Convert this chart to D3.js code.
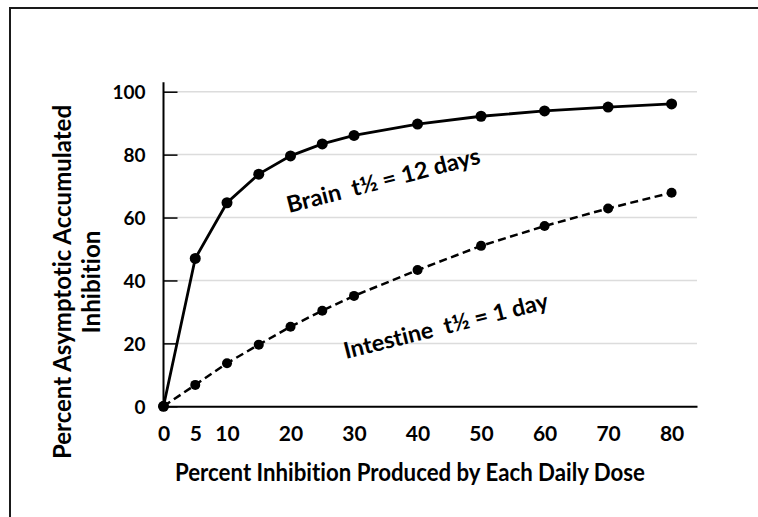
<!DOCTYPE html>
<html>
<head>
<meta charset="utf-8">
<script src="https://cdn.jsdelivr.net/npm/d3@7"></script>
<style>
  body { margin: 0; background: #fff; }
  text { font-family: "Lato", "Open Sans", sans-serif; font-weight: bold; fill: #000; font-variant-ligatures: none; }
</style>
</head>
<body>
<div id="chart"></div>
<script>
var svgWidth = 758;
var svgHeight = 517;

// data
var doses = [0, 5, 10, 15, 20, 25, 30, 40, 50, 60, 70, 80];
var brain = [0, 47.0, 64.7, 73.8, 79.6, 83.4, 86.1, 89.7, 92.2, 93.9, 95.1, 96.1];
var intestine = [0, 6.8, 13.7, 19.6, 25.3, 30.4, 35.1, 43.3, 51.0, 57.3, 62.9, 67.9];
var xTicks = [0, 5, 10, 20, 30, 40, 50, 60, 70, 80];
var yTicks = [0, 20, 40, 60, 80, 100];

var margin = { top: 91.7, left: 163.5 };
var width = 533.5;   // plot runs to 84 on x
var height = 314.6;  // 0..100 on y

var svg = d3.select("#chart")
    .append("svg")
    .attr("width", svgWidth)
    .attr("height", svgHeight);

// outer frame
svg.append("rect")
    .attr("x", 10)
    .attr("y", 8)
    .attr("width", 800)
    .attr("height", 600)
    .attr("fill", "none")
    .attr("stroke", "#1a1a1a")
    .attr("stroke-width", 2);

var chartGroup = svg.append("g")
    .attr("transform", `translate(${margin.left}, ${margin.top})`);

var xScale = d3.scaleLinear()
    .domain([0, 84])
    .range([0, width]);

var yScale = d3.scaleLinear()
    .domain([0, 100])
    .range([height, 0]);

// gridlines
chartGroup.append("g")
    .selectAll("line")
    .data(yTicks.filter(d => d > 0))
    .enter()
    .append("line")
    .attr("x1", 0)
    .attr("x2", width)
    .attr("y1", d => yScale(d))
    .attr("y2", d => yScale(d))
    .attr("stroke", "#dcdcdc")
    .attr("stroke-width", 1.5);

// y axis, ticks point inward
var leftAxis = d3.axisLeft(yScale)
    .tickValues(yTicks)
    .tickSize(-14)
    .tickPadding(18);

var yAxis = chartGroup.append("g").call(leftAxis);
yAxis.select(".domain").remove();
yAxis.selectAll("line").attr("stroke", "#000").attr("stroke-width", 1.5);
yAxis.selectAll("text")
    .attr("dy", "0.36em")
    .style("font-size", "19px")
    .attr("font-family", null);

chartGroup.append("line")
    .attr("x1", 0).attr("x2", 0)
    .attr("y1", yScale(103)).attr("y2", yScale(0))
    .attr("stroke", "#000")
    .attr("stroke-width", 2);

// x axis
var bottomAxis = d3.axisBottom(xScale)
    .tickValues(xTicks)
    .tickSize(0);

var xAxis = chartGroup.append("g")
    .attr("transform", `translate(0, ${height})`)
    .call(bottomAxis);
xAxis.select(".domain").attr("stroke", "#000").attr("stroke-width", 2);
xAxis.selectAll("text")
    .attr("y", 34.5)
    .attr("dy", 0)
    .style("font-size", "21px")
    .attr("font-family", null);

var line = d3.line()
    .x((d, i) => xScale(doses[i]))
    .y(d => yScale(d));

chartGroup.append("path")
    .datum(brain)
    .attr("d", line)
    .attr("fill", "none")
    .attr("stroke", "#000")
    .attr("stroke-width", 2.8);

chartGroup.append("path")
    .datum(intestine)
    .attr("d", line)
    .attr("fill", "none")
    .attr("stroke", "#000")
    .attr("stroke-width", 2.5)
    .attr("stroke-dasharray", "8,4.5");

chartGroup.selectAll(".brainDot")
    .data(brain)
    .enter()
    .append("circle")
    .attr("class", "brainDot")
    .attr("cx", (d, i) => xScale(doses[i]))
    .attr("cy", d => yScale(d))
    .attr("r", 5.5);

chartGroup.selectAll(".intDot")
    .data(intestine)
    .enter()
    .append("circle")
    .attr("class", "intDot")
    .attr("cx", (d, i) => xScale(doses[i]))
    .attr("cy", d => yScale(d))
    .attr("r", 5);

// curve labels (keep the double space)
svg.append("text")
    .attr("transform", "translate(289, 213) rotate(-14.5)")
    .attr("textLength", 199)
    .attr("lengthAdjust", "spacingAndGlyphs")
    .style("white-space", "pre")
    .style("font-size", "23px")
    .text("Brain  t\u00bd = 12 days");

svg.append("text")
    .attr("transform", "translate(346, 359) rotate(-14)")
    .attr("textLength", 210)
    .attr("lengthAdjust", "spacingAndGlyphs")
    .style("white-space", "pre")
    .style("font-size", "23px")
    .text("Intestine  t\u00bd = 1 day");

// axis titles
svg.append("text")
    .attr("x", 410)
    .attr("y", 481)
    .attr("text-anchor", "middle")
    .attr("textLength", 470)
    .attr("lengthAdjust", "spacingAndGlyphs")
    .style("font-size", "24px")
    .text("Percent Inhibition Produced by Each Daily Dose");

svg.append("text")
    .attr("transform", "translate(71, 282) rotate(-90)")
    .attr("text-anchor", "middle")
    .attr("textLength", 354)
    .attr("lengthAdjust", "spacingAndGlyphs")
    .style("font-size", "25px")
    .text("Percent Asymptotic Accumulated");

svg.append("text")
    .attr("transform", "translate(100, 282) rotate(-90)")
    .attr("text-anchor", "middle")
    .attr("textLength", 103)
    .attr("lengthAdjust", "spacingAndGlyphs")
    .style("font-size", "25px")
    .text("Inhibition");
</script>
</body>
</html>
